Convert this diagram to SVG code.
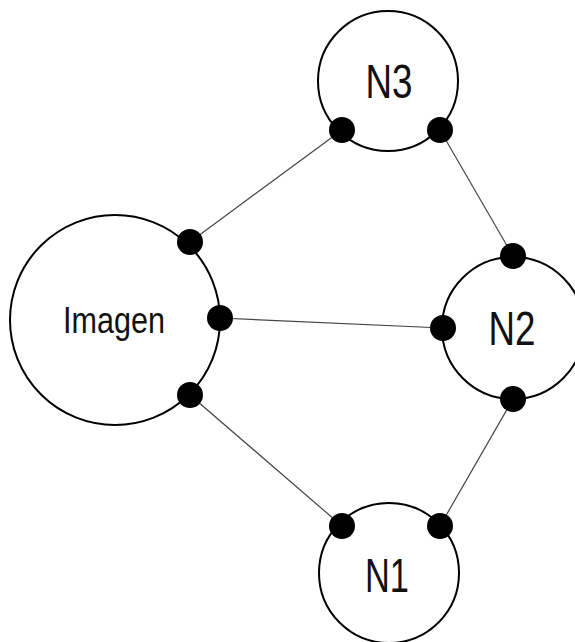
<svg xmlns="http://www.w3.org/2000/svg" width="575" height="642" viewBox="0 0 575 642">
<style>
.node{fill:#fff;stroke:#000;stroke-width:2}
.dot{fill:#000}
.edge{stroke:#444;stroke-width:1.2;fill:none}
.lbl{font-family:"Liberation Sans Narrow","Liberation Sans",Arial,sans-serif;fill:#111;text-anchor:middle}
</style>
<rect width="575" height="642" fill="#fff"/>
<g id="connectors">
<line class="edge" x1="342" y1="130" x2="190" y2="242"/>
<line class="edge" x1="440" y1="130" x2="513" y2="256"/>
<line class="edge" x1="220" y1="318" x2="443" y2="328"/>
<line class="edge" x1="190" y1="395" x2="342" y2="526"/>
<line class="edge" x1="513" y1="399" x2="440" y2="526"/>
</g>
<g id="imagen">
<circle class="node" cx="115" cy="320" r="105"/>
<text class="lbl" x="114" y="333" font-size="37" textLength="102" lengthAdjust="spacingAndGlyphs">Imagen</text>
<circle class="dot" cx="190" cy="242" r="13"/>
<circle class="dot" cx="220" cy="318" r="13"/>
<circle class="dot" cx="190" cy="395" r="13"/>
</g>
<g id="n3">
<circle class="node" cx="388" cy="81" r="70"/>
<text class="lbl" x="389" y="98" font-size="48" textLength="47" lengthAdjust="spacingAndGlyphs">N3</text>
<circle class="dot" cx="342" cy="130" r="13"/>
<circle class="dot" cx="440" cy="130" r="13"/>
</g>
<g id="n2">
<circle class="node" cx="513" cy="328" r="71"/>
<text class="lbl" x="512" y="345" font-size="48" textLength="47" lengthAdjust="spacingAndGlyphs">N2</text>
<circle class="dot" cx="513" cy="256" r="13"/>
<circle class="dot" cx="443" cy="328" r="13"/>
<circle class="dot" cx="513" cy="399" r="13"/>
</g>
<g id="n1">
<circle class="node" cx="389" cy="573" r="70"/>
<text class="lbl" x="387" y="592" font-size="48" textLength="44" lengthAdjust="spacingAndGlyphs">N1</text>
<circle class="dot" cx="342" cy="526" r="13"/>
<circle class="dot" cx="440" cy="526" r="13"/>
</g>
</svg>
